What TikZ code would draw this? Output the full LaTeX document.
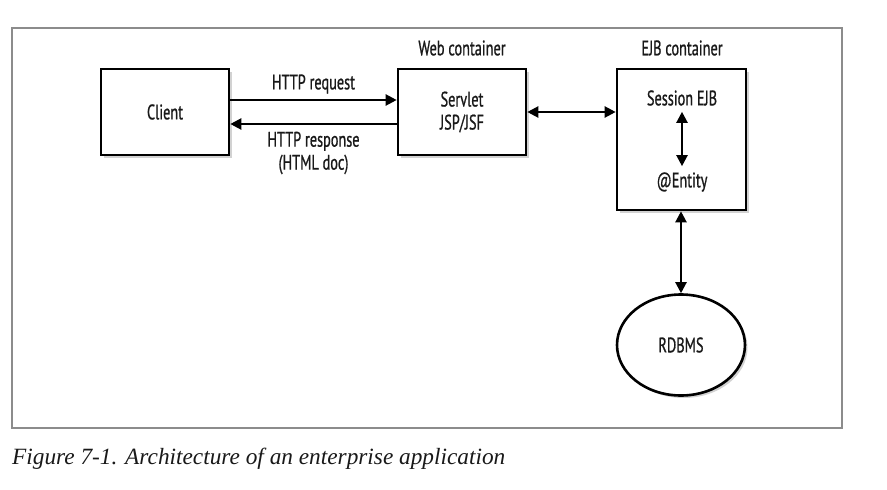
\documentclass[tikz,border=0pt]{standalone}
\usepackage{fontspec}
\newfontfamily\dfont{PT Sans}[FakeStretch=0.68, FakeBold=0.8]
\newfontfamily\capfont{Liberation Serif}
\usetikzlibrary{arrows.meta,shadows,shapes.geometric}
\begin{document}
\begin{tikzpicture}[x=1pt,y=-1pt,
  lab/.style={font=\dfont\fontsize{21}{23}\selectfont, align=center, inner sep=0pt, text=black!90},
  box/.style={draw, line width=2.6pt, fill=white, inner sep=0pt,
    drop shadow={shadow xshift=2.5pt, shadow yshift=-2.5pt, opacity=0.35}},
  conn/.style={line width=2.2pt, -{Triangle[length=11pt,width=11pt]}},
  conn2/.style={line width=2.2pt, {Triangle[length=11pt,width=11pt]}-{Triangle[length=11pt,width=11pt]}}]
\useasboundingbox (0,0) rectangle (887,490);
\fill[white] (0,0) rectangle (887,490);
\node[draw=black!45, line width=1.3pt, minimum width=830pt, minimum height=400pt, inner sep=0pt] (frame) at (427,228) {};
% boxes
\node[box, lab, minimum width=128pt, minimum height=86pt] (client) at (165,112) {Client};
\node[box, lab, minimum width=128pt, minimum height=86pt] (servlet) at (462,112) {Servlet\\JSP/JSF};
\node[box, minimum width=129pt, minimum height=141pt] (ejb) at (681.5,139.5) {};
\node[box, ellipse, minimum width=128pt, minimum height=101pt] (db) at (681,345) {};
\node[lab] (dbt) at (db.center) {RDBMS};
% labels
\node[lab] (web) at (462,48) {Web container};
\node[lab] (ejbl) at (682,48) {EJB container};
\node[lab] (sess) at (682,98) {Session EJB};
\node[lab] (ent) at (682,182) {@Entity};
\node[lab] (req) at (313.5,84) {HTTP request};
\node[lab] (resp) at (313.5,153) {HTTP response\\(HTML doc)};
% connectors
\draw[conn] ([yshift=12pt]client.east) -- ([yshift=12pt]servlet.west);
\draw[conn] ([yshift=-12pt]servlet.west) -- ([yshift=-12pt]client.east);
\draw[conn2] (servlet.east) -- (servlet.east -| ejb.west);
\draw[conn2] ([yshift=-6pt]sess.south) -- ([yshift=6pt]ent.north);
\draw[conn2] (db.north |- ejb.south) -- (db.north);
% caption
\node[anchor=base west, inner sep=0pt, font=\capfont\fontsize{23.3}{27}\selectfont\itshape, text=black!90] (cap) at (12,464) {Figure 7-1. Architecture of an enterprise application};
\end{tikzpicture}
\end{document}
